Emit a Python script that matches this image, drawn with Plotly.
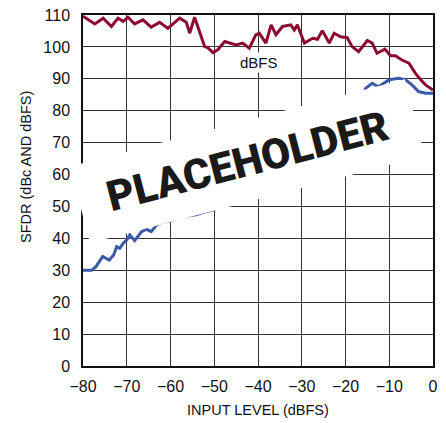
import plotly.graph_objects as go

# dBFS curve (red)
x_dbfs = [-80, -77.3, -75.4, -73.5, -72, -70.8, -69.7, -68.2, -66.3, -64.4, -62.5, -60.6,
          -57.9, -56.4, -55.6, -54.5, -52.2, -51.5, -50.3, -49.2, -47.6, -46.5, -45, -43.5,
          -42, -40.5, -39.7, -38.2, -37, -35.9, -34.4, -32.5, -31.7, -31, -29.4, -27.5,
          -26.4, -25.3, -23.7, -22.6, -21.1, -19.6, -18.5, -17, -15, -13.9, -12.8, -11,
          -9.7, -8.6, -7.1, -5.5, -4, -2.8, -1.7, 0]
y_dbfs = [109.6, 107.2, 109, 106.4, 109, 108, 109.3, 107.2, 108.5, 106.2, 107.7, 105.8,
          109, 107.7, 104.3, 109.3, 100.1, 99.8, 98.2, 99.1, 101.7, 101.2, 100.6, 101.2,
          99.6, 103.8, 104.3, 101.2, 106.9, 103.8, 106.4, 106.9, 105.3, 106.9, 101.2, 102.7,
          102.4, 105.1, 101.2, 104.3, 103.2, 102.9, 100.1, 98.5, 102, 101.2, 98, 99.3,
          97.2, 97.2, 95.9, 94.9, 91.7, 89.7, 88.1, 86.5]

# dBc curve (blue)
x_dbc = [-80, -78, -77, -75.5, -74, -73, -72.3, -71.6, -70.8, -70, -69.3, -68.2, -66.6,
         -65.5, -64.4, -63.2, -62, -60, -58, -56, -54, -52, -50, -48, -46, -44, -42, -40,
         -38, -36, -34, -32, -30, -28, -26, -24, -22, -20, -18, -16, -15.4, -13.9, -12.5,
         -11.2, -10, -7.8, -6.3, -4.8, -3.3, -1.7, 0]
y_dbc = [30, 30, 31.2, 34.3, 33.2, 34.8, 37.4, 36.9, 38.5, 39.5, 41.1, 39.3, 42.1,
         42.9, 42.1, 44.2, 45, 45.5, 46.5, 47, 47.5, 48.3, 49, 51, 53, 55, 57.5, 60,
         62, 64, 66.5, 69, 71, 73.5, 75, 77, 79, 81, 83, 85, 87, 88.6, 87.5,
         88.6, 89.7, 90.2, 89.7, 88.1, 86, 85.5, 85.5]

x_ticks = [-80, -70, -60, -50, -40, -30, -20, -10, 0]
x_labels = ["\u221280", "\u221270", "\u221260", "\u221250", "\u221240", "\u221230", "\u221220", "\u221210", "0"]
y_ticks = list(range(0, 111, 10))

FONT = "Liberation Sans, Arial, sans-serif"

fig = go.Figure()
fig.add_trace(go.Scatter(x=x_dbc, y=y_dbc, mode="lines",
                         line=dict(color="#3a5aa8", width=3), showlegend=False))
fig.add_trace(go.Scatter(x=x_dbfs, y=y_dbfs, mode="lines",
                         line=dict(color="#8c0b2f", width=3), showlegend=False))

axis_common = dict(showgrid=True, gridcolor="#333333", gridwidth=1.2,
                   showline=True, linecolor="#111111", linewidth=1.5, mirror=True,
                   zeroline=False, ticks="", automargin=False, ticklabeloverflow="allow",
                   tickfont=dict(family=FONT, size=16, color="#111111"))

fig.update_xaxes(range=[-80, 0], tickvals=x_ticks, ticktext=x_labels,
                 ticklabelstandoff=5, **axis_common)
fig.update_yaxes(range=[0, 110], tickvals=y_ticks, ticklabelstandoff=8, **axis_common)

# axis titles (paper coords relative to the 350x351 plot area)
fig.add_annotation(xref="paper", yref="paper", x=(258 - 83) / 350, y=-(410 - 366) / 351,
                   text="INPUT LEVEL (dBFS)", showarrow=False, yanchor="middle",
                   font=dict(family=FONT, size=14.5, color="#111111"))
fig.add_annotation(xref="paper", yref="paper", x=-(83 - 26) / 350, y=(366 - 167) / 351,
                   text="SFDR (dBc AND dBFS)", showarrow=False, textangle=-90,
                   xanchor="center", yanchor="middle",
                   font=dict(family=FONT, size=14.5, color="#111111"))

fig.add_annotation(x=-39.8, y=95, text="dBFS", showarrow=False, bgcolor="white",
                   font=dict(family=FONT, size=15, color="#111111"))

fig.add_annotation(x=-42.3, y=64.1, text="PLACEHOLDER", showarrow=False,
                   textangle=-14.6, bgcolor="white", width=345, height=78, borderpad=0,
                   font=dict(family="Roboto, Liberation Sans, sans-serif", size=42,
                             weight=900, color="#1a1a1a"))

# page body adds an 8px margin, so the figure is offset to compensate
fig.update_layout(width=438, height=415, plot_bgcolor="white", paper_bgcolor="white",
                  margin=dict(l=75, r=13, t=7, b=57))

fig.write_html("out.html")
